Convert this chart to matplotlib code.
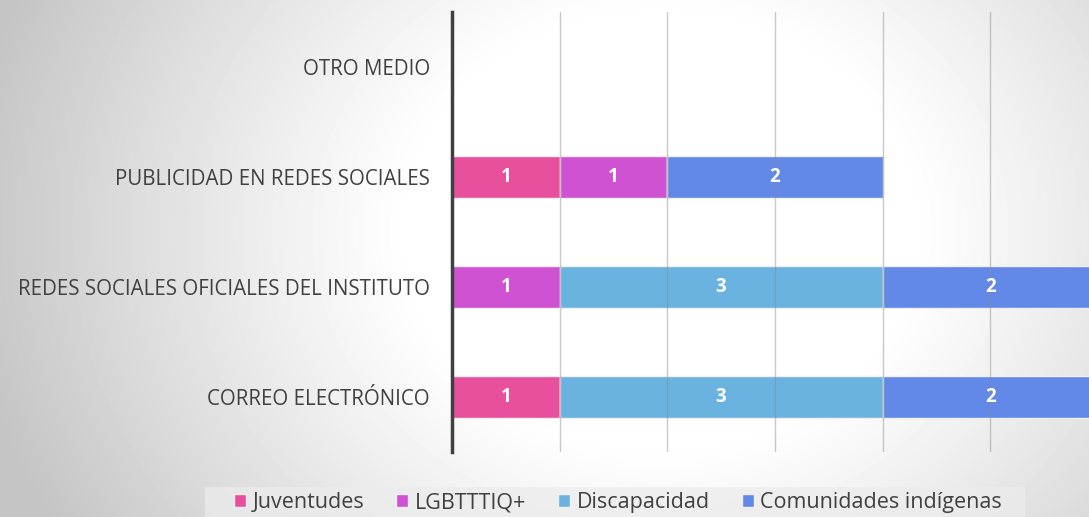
import numpy as np
import matplotlib.pyplot as plt
from matplotlib.patches import Rectangle

categories = ['CORREO ELECTRÓNICO', 'REDES SOCIALES OFICIALES DEL INSTITUTO',
              'PUBLICIDAD EN REDES SOCIALES', 'OTRO MEDIO']
series = ['Juventudes', 'LGBTTTIQ+', 'Discapacidad', 'Comunidades indígenas']
juventudes = [1, 0, 1, 0]
lgbt = [0, 1, 1, 0]
discapacidad = [3, 3, 0, 0]
comunidades = [2, 2, 2, 0]
colors = ['#E8509E', '#CF52D2', '#6AB3E0', '#6389E8']

plt.rcParams['font.family'] = ['Open Sans', 'DejaVu Sans']

fig = plt.figure(figsize=(10.89, 5.17), dpi=100)

# radial gradient background, white centre, gray edges
bg = fig.add_axes([0, 0, 1, 1], zorder=-10)
yy, xx = np.mgrid[0:517, 0:1089]
r = np.sqrt((xx - 660) ** 2 + ((yy - 230) / 0.85) ** 2)
t = np.clip((r - 250) / 450.0, 0, 1)
v = 1.0 - t ** 1.1 * 0.23
bg.imshow(v, cmap='gray', vmin=0, vmax=1, aspect='auto', interpolation='bilinear')
bg.axis('off')

ax = fig.add_axes([452 / 1089, 1 - 452 / 517, 646 / 1089, 440 / 517])
ax.patch.set_alpha(0)

data = [juventudes, lgbt, discapacidad, comunidades]
y = np.arange(len(categories))
left = np.zeros(len(categories))
for name, vals, c in zip(series, data, colors):
    vals = np.array(vals, dtype=float)
    bars = ax.barh(y, vals, left=left, height=0.38, color=c, edgecolor='#f0f0f0',
                   linewidth=1, label=name, zorder=2, clip_on=False)
    for b, val in zip(bars, vals):
        if val > 0:
            ax.text(b.get_x() + b.get_width() / 2, b.get_y() + b.get_height() / 2,
                    f'{int(val)}', ha='center', va='center', color='white',
                    fontsize=13.5, fontweight='bold', zorder=4)
    left += vals

ax.set_xlim(0, 6)
ax.set_ylim(-0.5, 3.5)
ax.set_xticks(np.arange(0, 7))
ax.xaxis.grid(True, color='#888888', alpha=0.45, linewidth=1, zorder=3)
ax.set_axisbelow(False)
ax.tick_params(axis='x', length=0, labelbottom=False)
ax.tick_params(axis='y', length=0, pad=16, labelsize=14.8, labelcolor='#404040')
ax.set_yticks(y)
ax.set_yticklabels(categories)
for s in ['top', 'right', 'bottom']:
    ax.spines[s].set_visible(False)
ax.spines['left'].set_color('#404040')
ax.spines['left'].set_linewidth(2.5)
ax.spines['left'].set_zorder(5)

fig.patches.append(Rectangle((205 / 1089, 0), 820 / 1089, 30 / 517,
                             transform=fig.transFigure, facecolor='#ececec',
                             edgecolor='none', alpha=0.75, zorder=-5))
leg = fig.legend(loc='lower center', bbox_to_anchor=(618 / 1089, -0.03), ncol=4,
                 frameon=False, fontsize=15.5, handlelength=0.55, handleheight=0.55,
                 handletextpad=0.3, columnspacing=1.5)
for t in leg.get_texts():
    t.set_color('#404040')

fig.savefig('out.png', dpi=100)
